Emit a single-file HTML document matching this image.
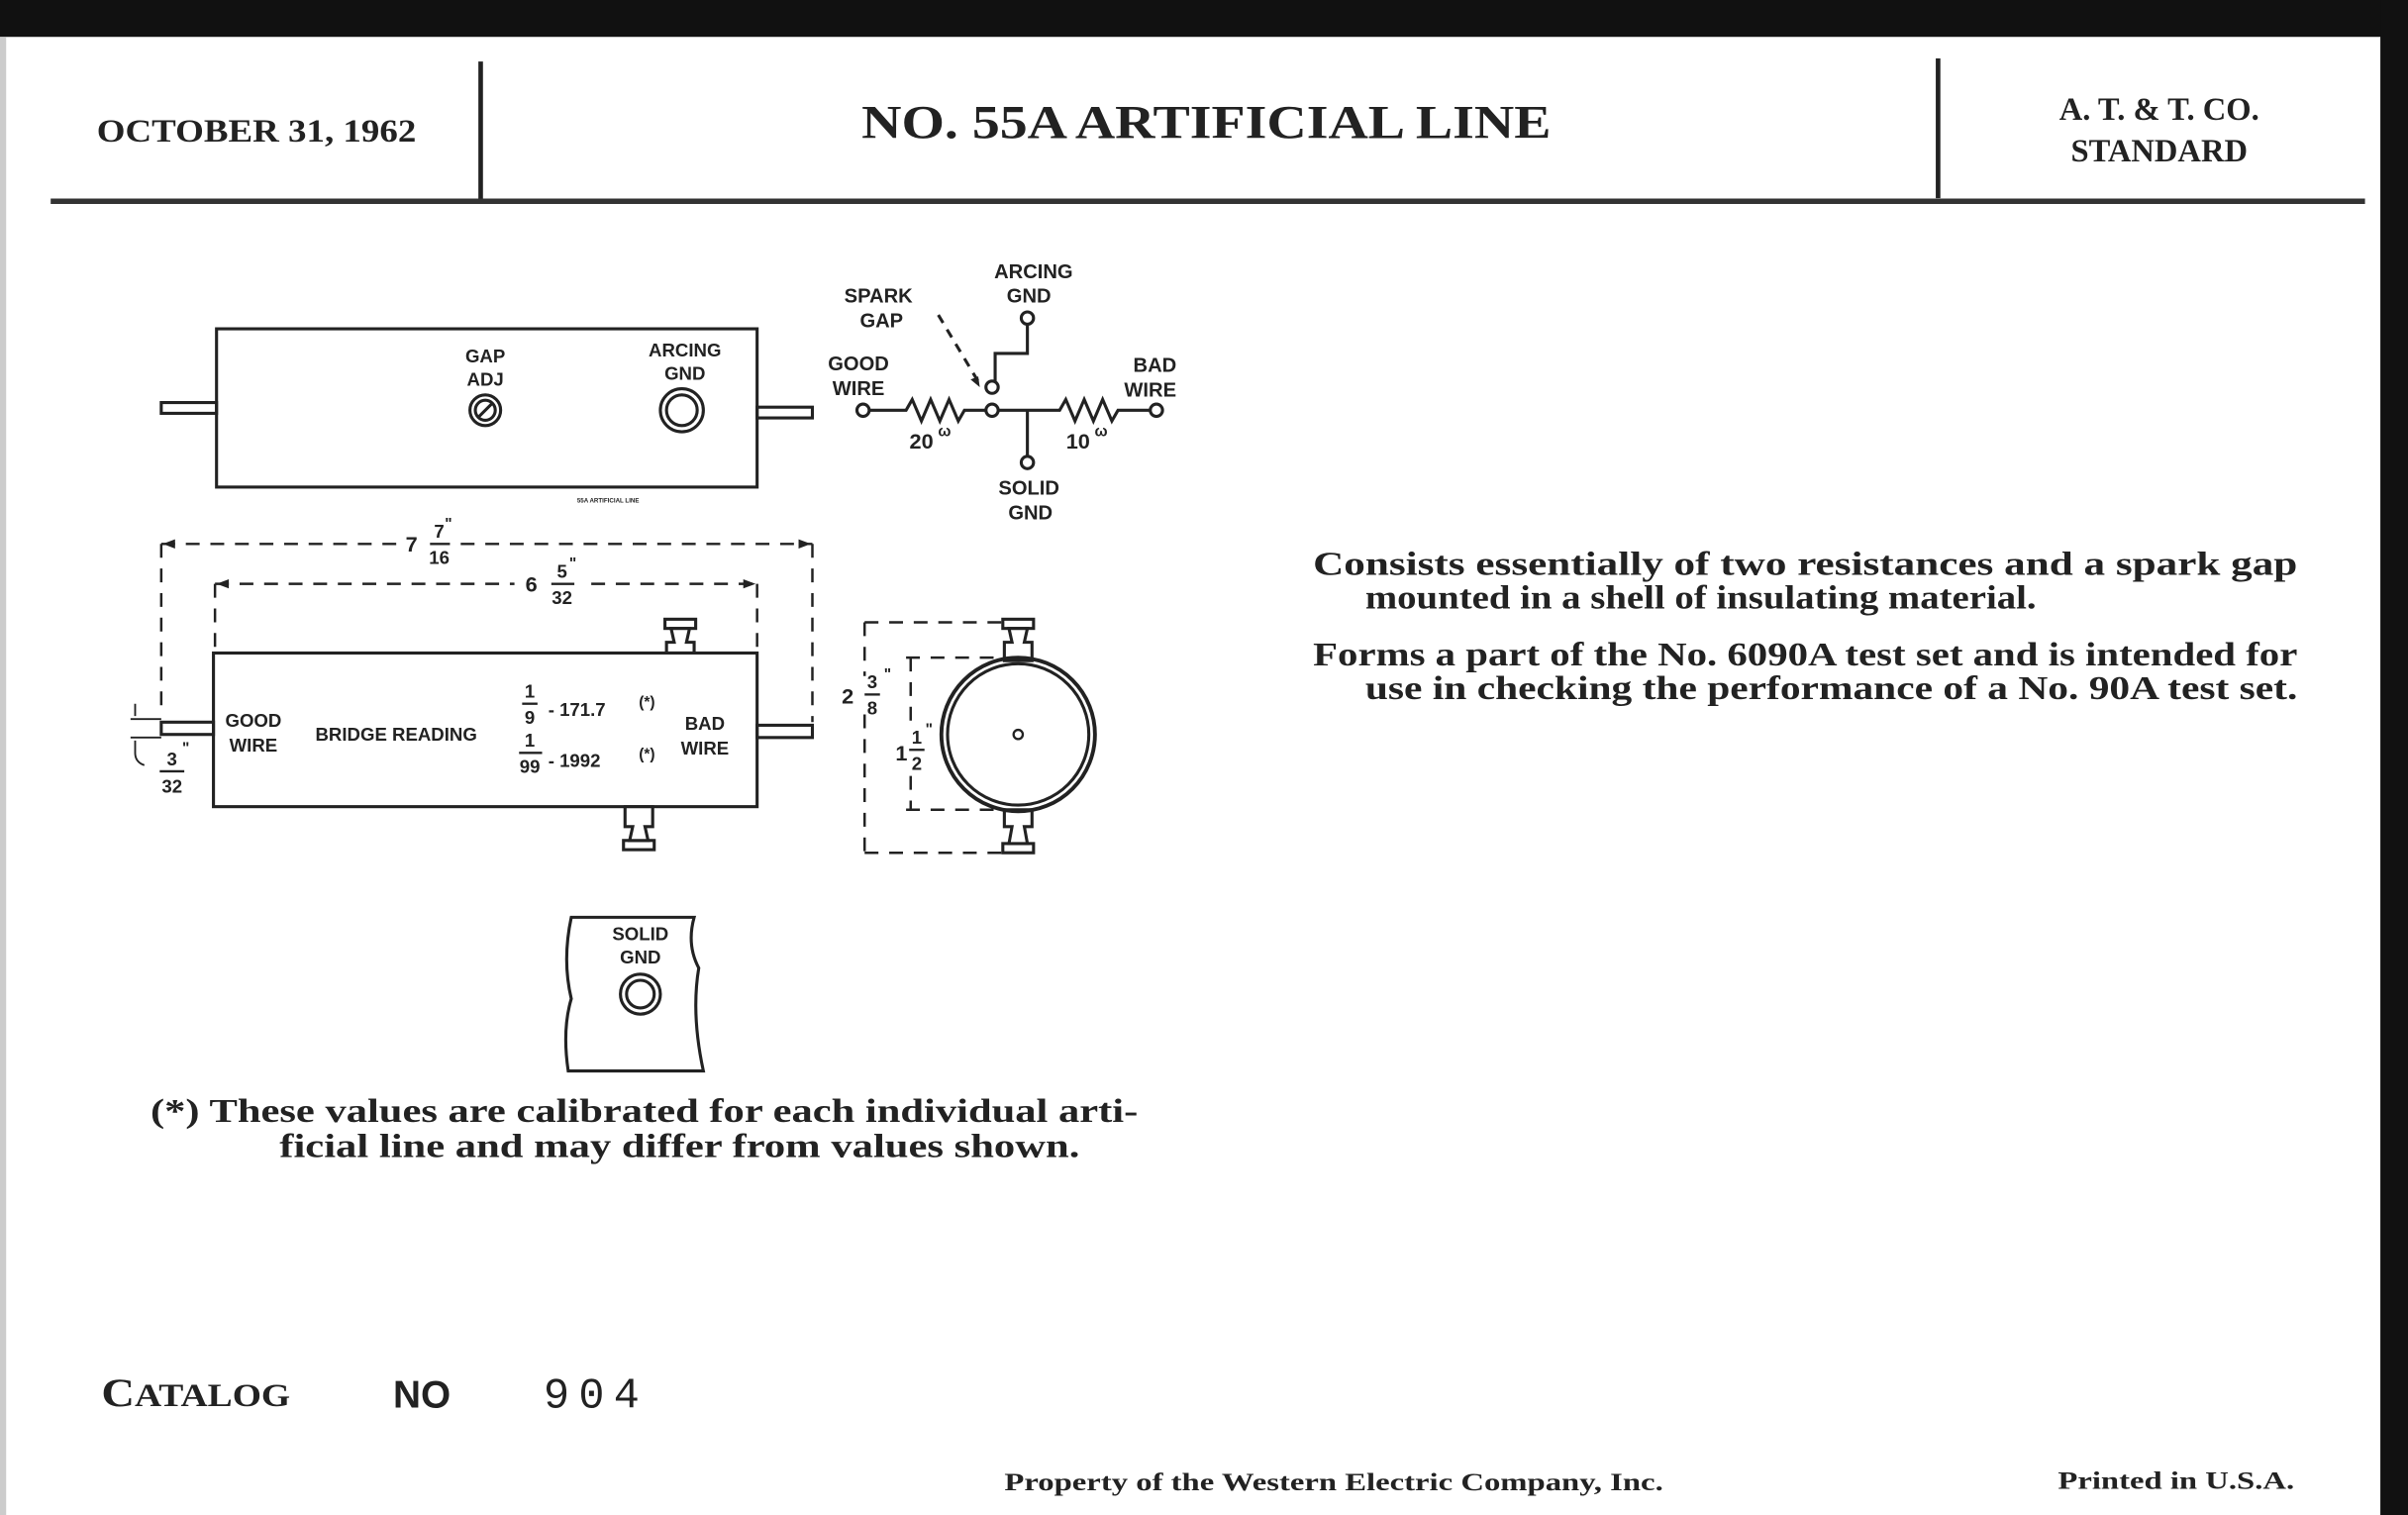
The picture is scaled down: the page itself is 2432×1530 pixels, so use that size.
<!DOCTYPE html>
<html><head><meta charset="utf-8"><style>
html,body{margin:0;padding:0;background:#fff;}
svg{display:block;}
.s{font-family:"Liberation Serif",serif;font-weight:bold;fill:#222;}
.g{font-family:"Liberation Sans",sans-serif;font-weight:bold;fill:#222;}
</style></head><body>
<svg width="2432" height="1530" viewBox="0 0 1568 986" preserveAspectRatio="none" xmlns="http://www.w3.org/2000/svg">
<rect width="1568" height="986" fill="#fff"/>
<rect x="0" y="0" width="1568" height="24" fill="#111"/>
<rect x="1550" y="0" width="18" height="986" fill="#111"/>
<rect x="0" y="24" width="4" height="962" fill="#ccc"/>
<!-- header -->
<line x1="313" y1="40" x2="313" y2="132" stroke="#222" stroke-width="3"/>
<line x1="1262" y1="38" x2="1262" y2="129" stroke="#222" stroke-width="3"/>
<line x1="33" y1="131" x2="1540" y2="131" stroke="#333" stroke-width="3.5"/>
<text class="s" x="63" y="92" font-size="21" textLength="208" lengthAdjust="spacingAndGlyphs">OCTOBER 31, 1962</text>
<text class="s" x="561" y="90" font-size="31" textLength="449" lengthAdjust="spacingAndGlyphs">NO. 55A ARTIFICIAL LINE</text>
<text class="s" x="1406" y="78" font-size="21" text-anchor="middle">A. T. &amp; T. CO.</text>
<text class="s" x="1406" y="105" font-size="21" text-anchor="middle">STANDARD</text>
<g stroke="#222" fill="none" stroke-width="2">
<!-- top view -->
<rect x="141" y="214" width="352" height="103"/>
<rect x="105" y="262" width="36" height="7"/>
<rect x="493" y="265" width="36" height="7"/>
<circle cx="316" cy="267" r="10"/><circle cx="316" cy="267" r="6.5"/>
<line x1="311" y1="272" x2="321" y2="262"/>
<circle cx="444" cy="267" r="14"/><circle cx="444" cy="267" r="10"/>
<!-- schematic -->
<circle cx="669" cy="207" r="4"/>
<polyline points="669,211 669,230 648,230 648,248"/>
<circle cx="646" cy="252" r="4"/>
<circle cx="562" cy="267" r="4"/>
<polyline points="566,267 590,267 594,260 600,274 606,260 612,274 618,260 624,274 628,267 642,267"/>
<circle cx="646" cy="267" r="4"/>
<polyline points="650,267 690,267 694,260 700,274 706,260 712,274 718,260 724,274 728,267 749,267"/>
<circle cx="753" cy="267" r="4"/>
<line x1="669" y1="267" x2="669" y2="297"/>
<circle cx="669" cy="301" r="4"/>
<line x1="611" y1="205" x2="638" y2="250" stroke-dasharray="6,5"/>
<!-- dimension lines -->
<g stroke-dasharray="9,7" stroke-width="1.6">
<line x1="105" y1="354" x2="262" y2="354"/><line x1="300" y1="354" x2="529" y2="354"/>
<line x1="105" y1="354" x2="105" y2="462"/><line x1="529" y1="354" x2="529" y2="470"/>
<line x1="140" y1="380" x2="335" y2="380"/><line x1="385" y1="380" x2="493" y2="380"/>
<line x1="140" y1="380" x2="140" y2="425"/><line x1="493" y1="380" x2="493" y2="425"/>
<line x1="563" y1="405" x2="660" y2="405"/><line x1="563" y1="555" x2="660" y2="555"/>
<line x1="563" y1="405" x2="563" y2="440"/><line x1="563" y1="465" x2="563" y2="555"/>
<line x1="590" y1="428" x2="648" y2="428"/><line x1="590" y1="527" x2="648" y2="527"/>
<line x1="593" y1="428" x2="593" y2="470"/><line x1="593" y1="505" x2="593" y2="527"/>
</g>
<!-- side view -->
<rect x="139" y="425" width="354" height="100"/>
<rect x="105" y="470" width="34" height="8"/>
<rect x="493" y="472" width="36" height="8"/>
<line x1="85" y1="468" x2="105" y2="468" stroke-width="1.2"/>
<line x1="85" y1="480" x2="105" y2="480" stroke-width="1.2"/>
<path d="M88,458 L88,466 M88,482 L88,490 Q88,496 94,498" stroke-width="1.2"/>
<!-- connectors -->
<g fill="#fff">
<rect x="433" y="403" width="20" height="6"/><path d="M437,409 L449,409 L447,418 L452,418 L452,425 L434,425 L434,418 L439,418 Z"/>
<rect x="406" y="547" width="20" height="6"/><path d="M410,547 L422,547 L420,538 L425,538 L425,525 L407,525 L407,538 L412,538 Z"/>
<rect x="653" y="403" width="20" height="6"/><path d="M657,409 L669,409 L667,418 L672,418 L672,430 L654,430 L654,418 L659,418 Z"/>
<rect x="653" y="549" width="20" height="6"/><path d="M657,549 L669,549 L667,538 L672,538 L672,527 L654,527 L654,538 L659,538 Z"/>
</g>
<circle cx="663" cy="478" r="50" stroke-width="2.5"/><circle cx="663" cy="478" r="46"/>
<circle cx="663" cy="478" r="3" stroke-width="1.5"/>
<!-- solid gnd piece -->
<path d="M372,597 L452,597 Q447,615 455,630 Q450,660 458,697 L370,697 Q366,670 372,650 Q366,625 372,597 Z"/>
<circle cx="417" cy="647" r="13"/><circle cx="417" cy="647" r="9"/>
</g>
<g fill="#222">
<path d="M106,354 l8,-3 l0,6z"/><path d="M528,354 l-8,-3 l0,6z"/>
<path d="M141,380 l8,-3 l0,6z"/><path d="M492,380 l-8,-3 l0,6z"/>
<path d="M638,252 l-6,-5 l5,-2z"/>
</g>
<g class="g" font-size="12" text-anchor="middle">
<text x="316" y="236">GAP</text><text x="316" y="251">ADJ</text>
<text x="446" y="232">ARCING</text><text x="446" y="247">GND</text>
<text x="572" y="197" font-size="13">SPARK</text><text x="574" y="213" font-size="13">GAP</text>
<text x="673" y="181" font-size="13">ARCING</text><text x="670" y="197" font-size="13">GND</text>
<text x="559" y="241" font-size="13">GOOD</text><text x="559" y="257" font-size="13">WIRE</text>
<text x="752" y="242" font-size="13">BAD</text><text x="749" y="258" font-size="13">WIRE</text>
<text x="670" y="322" font-size="13">SOLID</text><text x="671" y="338" font-size="13">GND</text>
<text x="600" y="292" font-size="14">20</text><text x="615" y="284" font-size="10">ω</text>
<text x="702" y="292" font-size="14">10</text><text x="717" y="284" font-size="10">ω</text>
<text x="396" y="327" font-size="4">55A ARTIFICIAL LINE</text>
<text x="268" y="359" font-size="14">7</text><text x="286" y="350" font-size="12">7</text><text x="286" y="367" font-size="12">16</text><text x="292" y="344" font-size="10">"</text>
<line x1="280" y1="354" x2="293" y2="354" stroke="#222" stroke-width="1.5"/>
<text x="346" y="385" font-size="14">6</text><text x="366" y="376" font-size="12">5</text><text x="366" y="393" font-size="12">32</text><text x="373" y="370" font-size="10">"</text>
<line x1="359" y1="380" x2="374" y2="380" stroke="#222" stroke-width="1.5"/>
<text x="165" y="473">GOOD</text><text x="165" y="489">WIRE</text>
<text x="258" y="482">BRIDGE READING</text>
<text x="345" y="454">1</text><text x="345" y="471">9</text><line x1="340" y1="458" x2="350" y2="458" stroke="#222" stroke-width="1.5"/>
<text x="345" y="486">1</text><text x="345" y="503">99</text><line x1="338" y1="490" x2="353" y2="490" stroke="#222" stroke-width="1.5"/>
<text x="459" y="475">BAD</text><text x="459" y="491">WIRE</text>
<text x="112" y="498">3</text><text x="112" y="516">32</text><line x1="104" y1="502" x2="120" y2="502" stroke="#222" stroke-width="1.5"/><text x="121" y="490" font-size="10">"</text>
<text x="552" y="458" font-size="14">2</text><text x="568" y="448">3</text><text x="568" y="465">8</text><line x1="563" y1="452" x2="573" y2="452" stroke="#222" stroke-width="1.5"/><text x="578" y="442" font-size="10">"</text>
<text x="587" y="495" font-size="14">1</text><text x="597" y="484">1</text><text x="597" y="501">2</text><line x1="592" y1="488" x2="602" y2="488" stroke="#222" stroke-width="1.5"/><text x="605" y="478" font-size="10">"</text>
<text x="417" y="612">SOLID</text><text x="417" y="627">GND</text>
</g>
<g class="g" font-size="12">
<text x="357" y="466">- 171.7</text><text x="416" y="460" font-size="10">(*)</text>
<text x="357" y="499">- 1992</text><text x="416" y="494" font-size="10">(*)</text>
</g>
<!-- body text -->
<g class="s" font-size="22">
<text x="98" y="730" textLength="643" lengthAdjust="spacingAndGlyphs">(*)  These values are calibrated for each individual arti-</text>
<text x="182" y="753" textLength="521" lengthAdjust="spacingAndGlyphs">ficial line and may differ from values shown.</text>
<text x="855" y="374" textLength="641" lengthAdjust="spacingAndGlyphs">Consists essentially of two resistances and a spark gap</text>
<text x="889" y="396" textLength="437" lengthAdjust="spacingAndGlyphs">mounted in a shell of insulating material.</text>
<text x="855" y="433" textLength="641" lengthAdjust="spacingAndGlyphs">Forms a part of the No. 6090A test set and is intended for</text>
<text x="889" y="455" textLength="607" lengthAdjust="spacingAndGlyphs">use in checking the performance of a No. 90A test set.</text>
</g>
<text class="s" x="66" y="915" font-size="26" textLength="123" lengthAdjust="spacingAndGlyphs">C<tspan font-size="21">ATALOG</tspan></text>
<text class="g" x="256" y="916" font-size="25">NO</text>
<text x="354" y="916" font-size="28" font-family="Liberation Mono,monospace" fill="#222" letter-spacing="6">904</text>
<text class="s" x="654" y="970" font-size="16" textLength="429" lengthAdjust="spacingAndGlyphs">Property of the Western Electric Company, Inc.</text>
<text class="s" x="1340" y="969" font-size="16" textLength="154" lengthAdjust="spacingAndGlyphs">Printed in U.S.A.</text>
</svg>
</body></html>
